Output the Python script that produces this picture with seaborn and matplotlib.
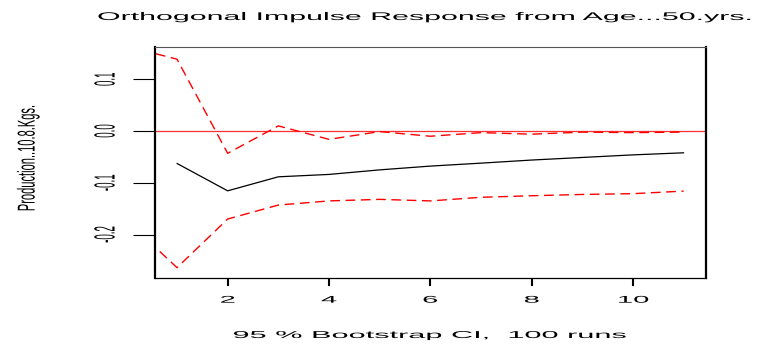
import matplotlib
matplotlib.use("Agg")
import matplotlib.pyplot as plt
import seaborn as sns
import pandas as pd
from matplotlib.patheffects import AbstractPathEffect
from matplotlib.transforms import Affine2D

sns.set_style("white")
plt.rcParams['font.family'] = ['Liberation Sans', 'DejaVu Sans']
plt.rcParams['text.color'] = 'black'
plt.rcParams['xtick.color'] = 'black'
plt.rcParams['ytick.color'] = 'black'

# data
steps = [1, 2, 3, 4, 5, 6, 7, 8, 9, 10, 11]
irf = [-0.0626, -0.1155, -0.0884, -0.0838, -0.0750, -0.0677, -0.0620, -0.0560, -0.0510, -0.0460, -0.0420]
ci_steps = [0, 1, 2, 3, 4, 5, 6, 7, 8, 9, 10, 11]
upper = [0.164, 0.139, -0.043, 0.010, -0.016, -0.001, -0.010, -0.003, -0.006, -0.002, -0.003, -0.002]
lower = [-0.172, -0.264, -0.170, -0.143, -0.135, -0.132, -0.135, -0.128, -0.125, -0.1225, -0.121, -0.116]
xticks = [2, 4, 6, 8, 10]
yticks = [-0.2, -0.1, 0.0, 0.1]

title = "Orthogonal Impulse Response from Age...50.yrs."
xlabel = "95 % Bootstrap CI,  100 runs"
ylabel = "Production..10.8.Kgs."


class Stretch(AbstractPathEffect):
    """Draw text stretched horizontally about a centre point (display px)."""
    def __init__(self, sx, center):
        super().__init__()
        self.sx = sx
        self.center = center

    def draw_path(self, renderer, gc, tpath, affine, rgbFace=None):
        cx, cy = self.center
        t = affine + Affine2D().translate(-cx, -cy).scale(self.sx, 1.0).translate(cx, cy)
        renderer.draw_path(gc, tpath, t, rgbFace)


df_irf = pd.DataFrame({"x": steps, "y": irf})
df_up = pd.DataFrame({"x": ci_steps, "y": upper})
df_lo = pd.DataFrame({"x": ci_steps, "y": lower})

W, H = 762, 345
fig = plt.figure(figsize=(W / 100, H / 100), dpi=100)
ax = fig.add_axes([155 / W, 1 - 278 / H, (706 - 155) / W, (278 - 47) / H])

ax.axhline(0, color="#ff3030", lw=0.9)
dash = (0, (7, 4))
sns.lineplot(data=df_irf, x="x", y="y", ax=ax, color="black", lw=0.9)
sns.lineplot(data=df_up, x="x", y="y", ax=ax, color="red", lw=1.0, linestyle=dash)
sns.lineplot(data=df_lo, x="x", y="y", ax=ax, color="red", lw=1.0, linestyle=dash)

ax.set_xlim(0.566, 11.44)
ax.set_ylim(-0.284, 0.1625)
ax.set_xticks(xticks)
ax.set_xticklabels([str(t) for t in xticks], fontsize=7)
ax.set_yticks(yticks)
ax.set_yticklabels([f"{t:.1f}" for t in yticks], fontsize=7, rotation=90, va="center")
ax.tick_params(axis="x", direction="out", length=6, width=1.5, pad=6, bottom=True)
ax.tick_params(axis="y", direction="out", length=16, width=0.8, pad=16, left=True)
for s in ax.spines.values():
    s.set_visible(True)
    s.set_color("black")
ax.spines["left"].set_linewidth(1.6)
ax.spines["right"].set_linewidth(1.6)
ax.spines["bottom"].set_linewidth(0.9)
ax.spines["top"].set_linewidth(0.8)
ax.spines["top"].set_color("#555555")

ax.set_xlabel("")
ax.set_ylabel("")
t_title = fig.text(426 / W, 1 - 17 / H, title, ha="center", va="center", fontsize=8)
t_xlab = fig.text(430 / W, 1 - 335 / H, xlabel, ha="center", va="center", fontsize=7.2)
t_ylab = fig.text(28 / W, 1 - 158 / H, ylabel, ha="center", va="center", fontsize=8, rotation=90)

fig.canvas.draw()
renderer = fig.canvas.get_renderer()


def stretch(text, sx=None, target_w=None):
    bb = text.get_window_extent(renderer)
    if target_w is not None:
        sx = target_w / bb.width
    c = ((bb.x0 + bb.x1) / 2, (bb.y0 + bb.y1) / 2)
    text.set_path_effects([Stretch(sx, c)])


stretch(t_title, target_w=658)
stretch(t_xlab, target_w=395)
stretch(t_ylab, sx=2.2)
for lab in ax.get_xticklabels():
    stretch(lab, sx=3.0)
for lab in ax.get_yticklabels():
    stretch(lab, sx=3.0)

fig.savefig("out.png", dpi=100)
